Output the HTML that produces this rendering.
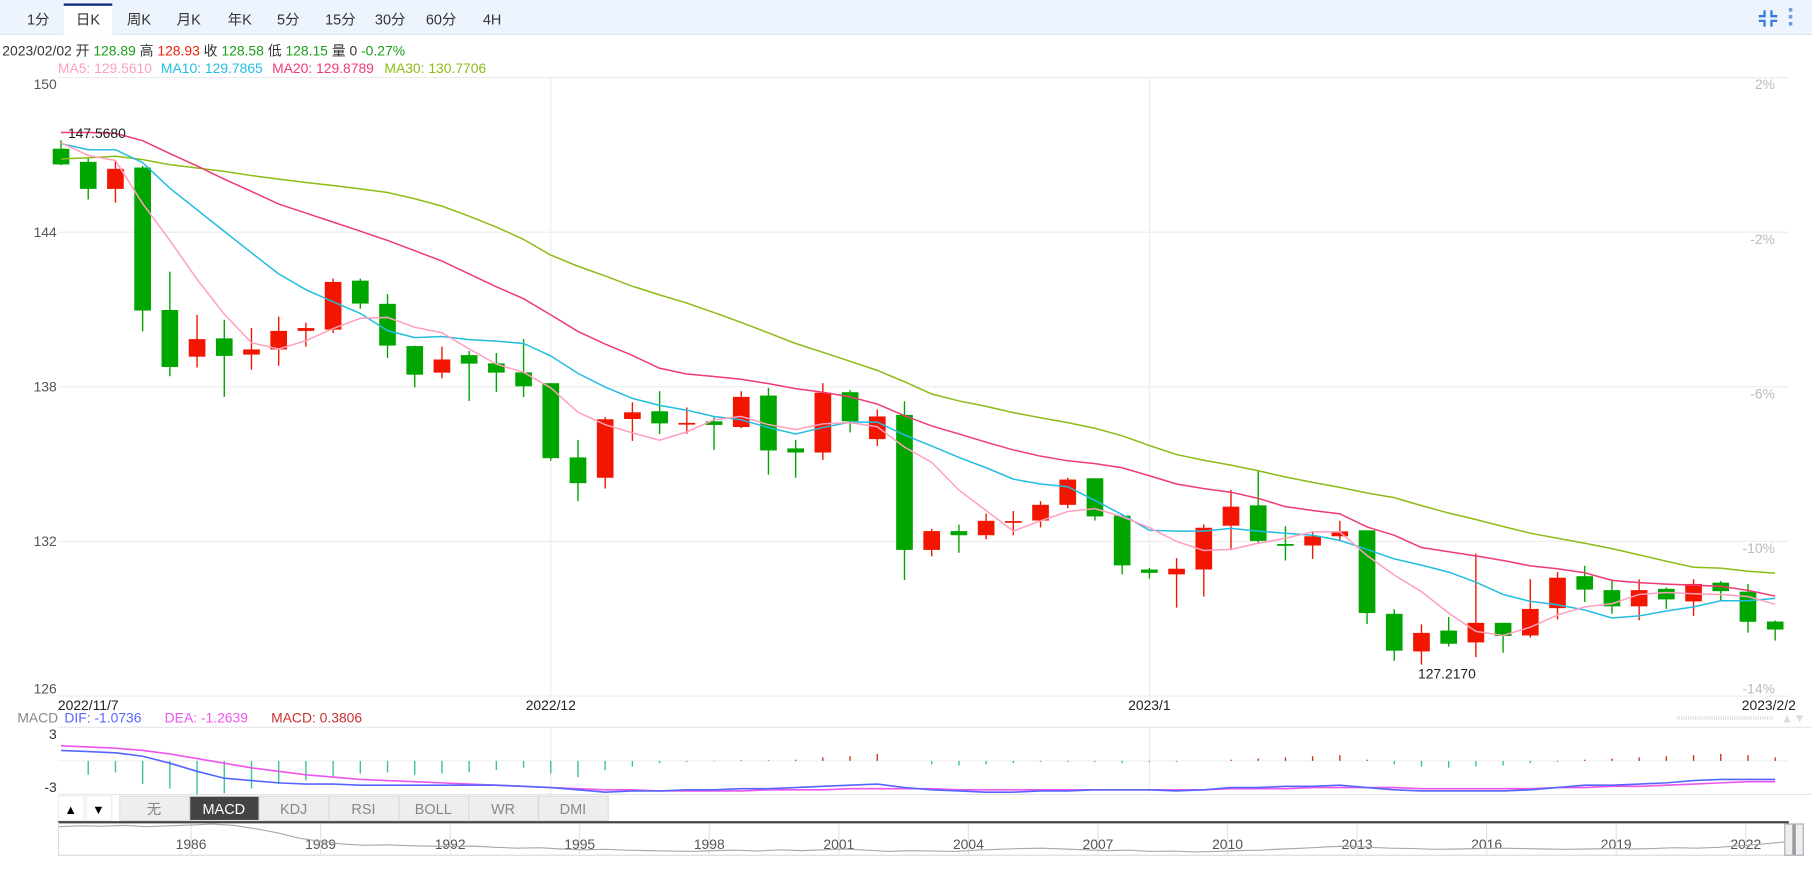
<!DOCTYPE html>
<html><head><meta charset="utf-8">
<style>
html,body{margin:0;padding:0;background:#fff;width:1812px;height:879px;overflow:hidden}
svg{display:block;font-family:"Liberation Sans","Noto Sans CJK SC",sans-serif}
</style></head>
<body>
<svg id="root" width="1812" height="879" viewBox="0 0 1565 759" preserveAspectRatio="none" xmlns="http://www.w3.org/2000/svg">
  <rect x="0" y="0" width="1565" height="29" fill="#edf4fe"/>
  <line x1="0" y1="29.5" x2="1565" y2="29.5" stroke="#d5e1f2"/>
  <rect x="55" y="3" width="42" height="27" fill="#fff"/>
  <rect x="55" y="3" width="42" height="2" fill="#0d2a7a"/>
  <g font-size="12.5" fill="#333" text-anchor="middle">
    <text x="33" y="21">1分</text>
    <text x="76" y="21">日K</text>
    <text x="120" y="21">周K</text>
    <text x="163" y="21">月K</text>
    <text x="207" y="21">年K</text>
    <text x="249" y="21">5分</text>
    <text x="294" y="21">15分</text>
    <text x="337" y="21">30分</text>
    <text x="381" y="21">60分</text>
    <text x="425" y="21">4H</text>
  </g>
  <g stroke="#3a7bd5" stroke-width="2" fill="none">
    <path d="M1519 14 H1524 V9 M1535 14 H1530 V9 M1519 18 H1524 V23 M1535 18 H1530 V23"/>
  </g>
  <g fill="#6a9be0">
    <rect x="1545" y="7" width="3" height="3"/><rect x="1545" y="13" width="3" height="3"/><rect x="1545" y="19" width="3" height="3"/>
  </g>
  <text x="2" y="48" font-size="12" fill="#333">2023/02/02 开 <tspan fill="#18a018">128.89</tspan> 高 <tspan fill="#f02010">128.93</tspan> 收 <tspan fill="#18a018">128.58</tspan> 低 <tspan fill="#18a018">128.15</tspan> 量 0 <tspan fill="#18a018">-0.27%</tspan></text>
  <g font-size="12">
    <text x="50" y="63" fill="#ff9fbf">MA5: 129.5610</text>
    <text x="139" y="63" fill="#22bde0">MA10: 129.7865</text>
    <text x="235" y="63" fill="#f03a76">MA20: 129.8789</text>
    <text x="332" y="63" fill="#8cbc14">MA30: 130.7706</text>
  </g>
  <g id="grid"></g>
  <g id="marks"></g>
  <g id="macd"></g>
  <g id="bottom"></g>
</svg>
<script>
const categories = ["2022/11/7","11/8","11/9","11/10","11/11","11/14","11/15","11/16","11/17","11/18","11/21","11/22","11/23","11/24","11/25","11/28","11/29","11/30","2022/12","12/2","12/5","12/6","12/7","12/8","12/9","12/12","12/13","12/14","12/15","12/16","12/19","12/20","12/21","12/22","12/23","12/26","12/27","12/28","12/29","12/30","2023/1","1/3","1/4","1/5","1/6","1/9","1/10","1/11","1/12","1/13","1/16","1/17","1/18","1/19","1/20","1/23","1/24","1/25","1/26","1/27","1/30","1/31","2/1","2023/2/2"];
const openV  = [147.24,146.73,145.68,146.51,140.98,139.17,139.88,139.25,139.45,140.17,140.22,142.12,141.22,139.58,138.55,139.23,138.91,138.56,138.14,135.26,134.47,136.75,137.05,136.58,136.66,136.44,137.66,135.61,135.45,137.79,135.97,136.91,131.67,132.40,132.24,132.74,132.81,133.42,134.45,133.00,130.91,130.72,130.91,132.61,133.40,131.90,131.84,132.20,132.43,129.19,127.73,128.54,128.08,128.84,128.35,129.41,130.65,130.11,129.48,130.16,129.67,130.40,130.05,128.89];
const highV  = [147.568,146.92,146.78,146.57,142.47,140.79,140.60,140.28,140.72,140.49,142.20,142.20,141.60,139.60,139.56,139.39,139.31,139.85,138.14,135.94,136.82,137.40,137.83,137.20,136.82,137.83,137.96,135.94,138.14,137.87,137.12,137.44,132.48,132.65,133.08,133.18,133.56,134.47,134.45,133.00,130.97,131.35,132.66,134.00,134.73,132.59,132.40,132.80,132.43,129.37,128.78,129.07,131.53,128.84,130.54,130.81,131.05,130.53,130.53,130.21,130.53,130.46,130.35,128.93];
const lowV   = [146.60,145.27,145.14,140.15,138.41,138.75,137.61,138.66,138.82,139.56,140.09,141.03,139.12,137.98,138.33,137.45,137.80,137.60,135.13,133.56,134.05,135.90,136.17,136.18,135.55,136.40,134.59,134.47,135.16,136.23,135.70,130.50,131.42,131.56,132.08,132.24,132.54,133.29,132.81,130.72,130.56,129.43,129.86,131.66,131.92,131.26,131.32,132.05,128.79,127.37,127.217,127.92,127.51,127.68,128.27,128.97,129.65,129.19,128.94,129.38,129.11,129.70,128.46,128.15];
const closeV = [146.63,145.68,146.46,140.96,138.77,139.85,139.20,139.45,140.17,140.28,142.07,141.23,139.60,138.47,139.06,138.90,138.55,138.02,135.23,134.26,136.74,137.01,136.58,136.60,136.52,137.61,135.53,135.45,137.77,136.66,136.85,131.67,132.40,132.24,132.80,132.79,133.42,134.40,132.97,131.07,130.78,130.94,132.53,133.35,132.02,131.83,132.20,132.39,129.22,127.76,128.45,128.03,128.84,128.33,129.38,130.59,130.13,129.48,130.11,129.75,130.35,130.07,128.88,128.58];
const ma5  = [147.47,146.98,146.78,145.11,143.68,142.17,140.82,139.71,139.47,139.79,140.26,140.66,140.69,140.31,140.10,139.47,138.88,138.56,137.96,137.01,136.53,136.21,135.93,136.25,136.72,136.85,136.53,136.34,136.56,136.61,136.45,135.66,135.07,133.99,133.20,132.40,132.80,133.16,133.27,132.96,132.53,132.00,131.65,131.69,131.93,132.12,132.37,132.37,131.45,130.69,130.05,129.22,128.51,128.35,128.67,129.14,129.46,129.58,129.94,130.02,129.97,129.94,129.86,129.56];
const ma10 = [147.44,147.20,147.20,146.70,145.71,144.87,144.03,143.20,142.38,141.77,141.30,140.85,140.18,139.91,139.95,139.83,139.77,139.68,139.20,138.52,137.99,137.55,137.28,137.09,136.85,136.72,136.42,136.17,136.42,136.63,136.63,136.13,135.70,135.26,134.86,134.42,134.23,134.12,133.59,133.04,132.43,132.40,132.40,132.51,132.40,132.32,132.24,132.04,131.69,131.32,131.08,130.81,130.42,129.94,129.67,129.54,129.34,129.03,129.11,129.30,129.46,129.70,129.70,129.79];
const ma20 = [147.87,147.87,147.84,147.55,147.05,146.57,146.06,145.58,145.09,144.74,144.39,144.04,143.68,143.28,142.88,142.38,141.88,141.42,140.79,140.15,139.66,139.22,138.72,138.50,138.40,138.29,138.12,137.93,137.79,137.61,137.33,136.88,136.48,136.17,135.85,135.55,135.31,135.13,135.02,134.86,134.55,134.23,134.05,133.91,133.67,133.35,133.20,133.07,132.56,132.24,131.76,131.60,131.44,131.26,131.05,130.94,130.78,130.49,130.40,130.34,130.30,130.26,130.10,129.88];
const ma30 = [146.84,146.89,146.95,146.82,146.62,146.49,146.36,146.20,146.06,145.93,145.81,145.68,145.54,145.30,145.01,144.62,144.20,143.72,143.11,142.68,142.30,141.90,141.57,141.25,140.88,140.50,140.09,139.68,139.34,138.99,138.64,138.20,137.72,137.45,137.24,137.00,136.80,136.61,136.39,136.10,135.72,135.37,135.15,134.96,134.74,134.50,134.29,134.10,133.88,133.70,133.39,133.10,132.85,132.58,132.32,132.12,131.93,131.72,131.48,131.23,131.00,130.96,130.84,130.77];
const difV = [1.17,1.04,0.91,0.52,-0.26,-1.17,-1.96,-2.22,-2.48,-2.61,-2.61,-2.74,-2.74,-2.74,-2.74,-2.74,-2.74,-2.87,-3.00,-3.26,-3.52,-3.39,-3.39,-3.26,-3.26,-3.13,-3.13,-3.00,-2.87,-2.74,-2.61,-3.00,-3.26,-3.39,-3.52,-3.52,-3.39,-3.39,-3.26,-3.26,-3.26,-3.39,-3.26,-3.00,-3.00,-2.87,-2.87,-2.74,-3.00,-3.26,-3.39,-3.39,-3.39,-3.39,-3.26,-3.00,-2.74,-2.74,-2.61,-2.48,-2.22,-2.09,-2.09,-2.09];
const deaV = [1.69,1.56,1.43,1.17,0.78,0.26,-0.26,-0.78,-1.17,-1.56,-1.83,-2.09,-2.22,-2.35,-2.48,-2.61,-2.74,-2.87,-3.00,-3.13,-3.26,-3.26,-3.39,-3.39,-3.39,-3.39,-3.26,-3.26,-3.26,-3.13,-3.13,-3.13,-3.13,-3.26,-3.26,-3.26,-3.26,-3.26,-3.26,-3.26,-3.26,-3.26,-3.26,-3.13,-3.13,-3.13,-3.00,-3.00,-3.00,-3.00,-3.13,-3.13,-3.13,-3.13,-3.13,-3.00,-3.00,-2.87,-2.87,-2.74,-2.61,-2.48,-2.35,-2.35];
const histV = [0,-1.56,-1.30,-2.61,-3.13,-3.78,-3.65,-3.13,-2.61,-2.22,-1.70,-1.43,-1.30,-1.56,-1.43,-1.30,-1.04,-0.78,-1.43,-1.83,-1.04,-0.65,-0.26,-0.13,-0.07,0.07,0.07,0.13,0.39,0.52,0.78,0,-0.39,-0.52,-0.39,-0.26,-0.13,-0.13,-0.13,-0.26,-0.13,-0.13,0,0.13,0.26,0.39,0.52,0.65,0.13,-0.39,-0.65,-0.78,-0.65,-0.52,-0.26,-0.13,0.13,0.26,0.39,0.52,0.65,0.78,0.65,0.39];
const priceTicks = [150,144,138,132,126];
const pctTicks = ["2%","-2%","-6%","-10%","-14%"];
const dateLabels = ["2022/11/7","2022/12","2023/1","2023/2/2"];
const dateLabelIdx = [0,18,40,63];
const navYears = ["1986","1989","1992","1995","1998","2001","2004","2007","2010","2013","2016","2019","2022"];
const navSeries = [250,252,251,253,250,252,254,256,253,245,235,222,214,208,205,206,204,203,202,203,200,198,199,196,194,195,193,192,191,190,192,193,191,194,192,194,196,193,190,192,191,190,193,195,197,198,196,194,192,193,190,191,189,190,192,193,196,198,201,203,200,198,197,195,196,197,198,197,196,195,196,197,196,197,199,198,200,204,208,213];

const NS="http://www.w3.org/2000/svg";
function mk(tag, attrs, parent){const e=document.createElementNS(NS,tag);for(const k in attrs)e.setAttribute(k,attrs[k]);parent.appendChild(e);return e;}
const X0=52.7, DX=23.5;
const xAt=i=>X0+i*DX;
const PT=67, PB=601, PMAX=150, PMIN=126;
const yP=p=>PT+(PMAX-p)*(PB-PT)/(PMAX-PMIN);
const M0=657, MS=7.67;
const yM=v=>M0-v*MS;

const grid=document.getElementById('grid');
priceTicks.forEach((p,k)=>{
  const y=yP(p);
  const ln=mk('line',{x1:50,x2:1545,y1:y,y2:y,stroke:'#ececec'},grid);
  
  
  let ty=y+4; if(k===0) ty=y+10; if(k===priceTicks.length-1) ty=y-2;
  const t=mk('text',{x:49,y:ty,'font-size':12,fill:'#555','text-anchor':'end'},grid);
  t.textContent=p;
  
  
  const r=mk('text',{x:1533,y:(k===priceTicks.length-1?y-2:y+10),'font-size':12,fill:'#bbb','text-anchor':'end'},grid);
  r.textContent=pctTicks[k];
  
  
});
dateLabelIdx.forEach((idx,k)=>{
  const x=xAt(idx);
  if(k===1||k===2){
    const v=mk('line',{x1:x,x2:x,y1:PT,y2:PB,stroke:'#ececec'},grid);
    
    
    const v2=mk('line',{x1:x,x2:x,y1:628,y2:686,stroke:'#ececec'},grid);
    
    
  }
  let anchor='middle', tx=x;
  if(k===0){anchor='start';tx=50;} if(k===3){anchor='end';tx=1551;}
  const t=mk('text',{x:tx,y:613,'font-size':12,fill:'#222','text-anchor':anchor},grid);
  t.textContent=dateLabels[k];
  
  
});

const marks=document.getElementById('marks');
const GREEN='#00a600', RED='#f21500';
categories.forEach((c,i)=>{
  const up=closeV[i]>=openV[i];
  const col=up?RED:GREEN;
  const x=xAt(i);
  const w=mk('line',{x1:x,x2:x,y1:yP(highV[i]),y2:yP(lowV[i]),stroke:col,'stroke-width':1.2},marks);
  
  
  const top=yP(Math.max(openV[i],closeV[i])), bot=yP(Math.min(openV[i],closeV[i]));
  const b=mk('rect',{x:x-7.2,y:top,width:14.4,height:Math.max(1.5,bot-top),fill:col},marks);
  
  
});
function line(arr,yf,color,name,parent,sw){
  const d=arr.map((v,i)=>(i?'L':'M')+xAt(i).toFixed(1)+' '+yf(v).toFixed(1)).join(' ');
  const p=mk('path',{d:d,fill:'none',stroke:color,'stroke-width':sw||1.3},parent);
  
  
}
line(ma30,yP,'#8cbc14','ma30-line',marks);
line(ma20,yP,'#f03a76','ma20-line',marks);
line(ma10,yP,'#22bde0','ma10-line',marks);
line(ma5,yP,'#ff9fbf','ma5-line',marks);
let hi=0,lo=0;highV.forEach((v,i)=>{if(v>highV[hi])hi=i;});lowV.forEach((v,i)=>{if(v<lowV[lo])lo=i;});
const hl=mk('text',{x:xAt(hi)+6,y:yP(highV[hi])-2,'font-size':12,fill:'#222'},marks);
hl.textContent=highV[hi].toFixed(4);


const ll=mk('text',{x:xAt(lo)-3,y:yP(lowV[lo])+12,'font-size':12,fill:'#222'},marks);
ll.textContent=lowV[lo].toFixed(4);



const macd=document.getElementById('macd');
const mh=mk('text',{x:15,y:624,'font-size':12,fill:'#888'},macd);
mh.innerHTML='MACD <tspan fill="#5566ff" dx="2">DIF: -1.0736</tspan><tspan fill="#ee55ee" dx="20">DEA: -1.2639</tspan><tspan fill="#c83030" dx="20">MACD: 0.3806</tspan>';


[628,686].forEach(y=>{const l=mk('line',{x1:50,x2:1565,y1:y,y2:y,stroke:'#e6e6e6'},macd);

});
const zl=mk('line',{x1:50,x2:1545,y1:M0,y2:M0,stroke:'#f0f0f0'},macd);


[["3",638],["-3",684]].forEach(a=>{const t=mk('text',{x:49,y:a[1],'font-size':12,fill:'#333','text-anchor':'end'},macd);t.textContent=a[0];

});
const dl=mk('line',{x1:1448,x2:1532,y1:620,y2:620,stroke:'#ddd','stroke-dasharray':'1 1','stroke-width':3},macd);


const ar=mk('text',{x:1538,y:624,'font-size':11,fill:'#ddd'},macd);ar.textContent='▲▼';


histV.forEach((h,i)=>{
  const b=mk('line',{x1:xAt(i),x2:xAt(i),y1:M0,y2:yM(h),stroke:h>=0?'#d03020':'#3cc48e','stroke-width':1.2},macd);
  
  
});
line(deaV,yM,'#ee55ee','dea-line',macd,1.4);
line(difV,yM,'#5566ff','dif-line',macd,1.4);

const bottom=document.getElementById('bottom');
const btns=[["▲",50,72],["▼",74,96]];
btns.forEach(b=>{const r=mk('rect',{x:b[1]+0.5,y:687.5,width:b[2]-b[1],height:21,fill:'#fff',stroke:'#eee'},bottom);


const t=mk('text',{x:(b[1]+b[2])/2,y:703,'font-size':11,fill:'#000','text-anchor':'middle'},bottom);t.textContent=b[0];

});
const tabs=["无","MACD","KDJ","RSI","BOLL","WR","DMI"];
tabs.forEach((n,k)=>{const x=103+k*60.3;const act=n==="MACD";
const r=mk('rect',{x:x+0.5,y:687.5,width:60,height:21,fill:act?'#444':'#eee',stroke:'#ddd'},bottom);


const t=mk('text',{x:x+30,y:703,'font-size':12.5,fill:act?'#fff':'#888','text-anchor':'middle'},bottom);t.textContent=n;

});
const nb=mk('line',{x1:50,x2:1545,y1:710,y2:710,stroke:'#444','stroke-width':2},bottom);


const nb2=mk('line',{x1:50,x2:1545,y1:738.5,y2:738.5,stroke:'#ddd'},bottom);


const nl=mk('line',{x1:50.5,x2:50.5,y1:710,y2:739,stroke:'#ddd'},bottom);


const NYX0=165, NYDX=111.9;
navYears.forEach((y,k)=>{const x=NYX0+k*NYDX;
const l=mk('line',{x1:x,x2:x,y1:711,y2:738,stroke:'#e4e4e4'},bottom);


const t=mk('text',{x:x,y:733,'font-size':12,fill:'#555','text-anchor':'middle'},bottom);t.textContent=y;

});
const nX0=51, nX1=1541, nYt=712, nYb=737;
const d=navSeries.map((v,i)=>(i?'L':'M')+(nX0+i*(nX1-nX0)/(navSeries.length-1)).toFixed(1)+' '+(nYb-(v-185)*(nYb-nYt)/(255-185)).toFixed(1)).join(' ');
const np=mk('path',{d:d,fill:'none',stroke:'#aaa','stroke-width':1},bottom);


const hd=mk('rect',{x:1541.5,y:711.5,width:16,height:27,fill:'#eee',stroke:'#aab'},bottom);


const hg=mk('rect',{x:1548,y:712,width:3,height:26,fill:'#999'},bottom);


</script>
</body></html>
